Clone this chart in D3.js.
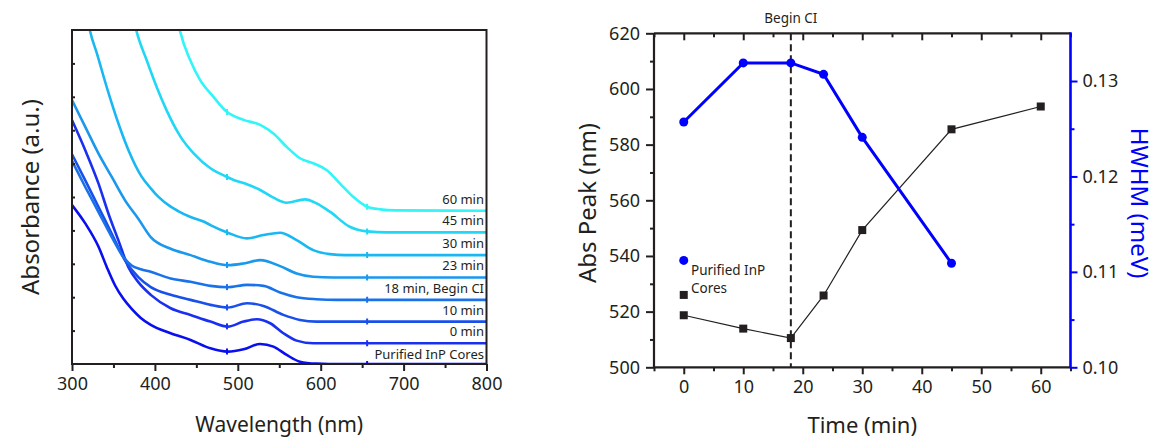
<!DOCTYPE html>
<html><head><meta charset="utf-8">
<script src="https://cdn.jsdelivr.net/npm/d3@7"></script>
<style>
body{margin:0;background:#fff}
svg{display:block}
text{font-family:"Noto Sans",sans-serif;fill:#231f20}
</style>
</head><body>
<svg id="c" width="1158" height="441"></svg>
<script>
// ---------- Left panel data (absorbance, arbitrary units with offsets) ----------
const wavelengthTicks = [300, 400, 500, 600, 700, 800];
const wavelengthMinor = [350, 450, 550, 650, 750];
const absTicks = [1, 2, 3, 4, 5, 6, 7, 8, 9];
const seriesLabels = ["Purified InP Cores", "0 min", "10 min", "18 min, Begin CI", "23 min", "30 min", "45 min", "60 min"];
const seriesColors = ["#0a0ff0", "#1a30f0", "#1a50ea", "#1a72ea", "#1a98ee", "#1ab8f2", "#20d8f6", "#30f6fa"];
const labelLevels = [0, 0.62, 1.27, 1.92, 2.59, 3.26, 3.94, 4.59];
const glitchWavelengths = [487, 656];

const specPurified = [[300,4.76],[316,4.21],[332,3.51],[342,2.9],[352,2.35],[362,1.95],[372,1.65],[383,1.38],[395,1.17],[419,0.92],[443,0.72],[467,0.47],[488,0.37],[507,0.44],[527,0.60],[543,0.52],[559,0.27],[575,0.07],[595,0.01],[610,0],[800,0]];
const spec0 = [[300,7.3],[316,6.4],[332,5.4],[344,4.5],[356,3.7],[368,2.9],[380,2.45],[395,2.07],[419,1.67],[443,1.47],[467,1.27],[488,1.12],[507,1.27],[523,1.34],[539,1.22],[555,0.92],[571,0.70],[591,0.62],[620,0.62],[800,0.62]];
const spec10 = [[300,6.28],[316,5.5],[332,4.7],[348,3.9],[364,3.1],[380,2.6],[395,2.30],[419,2.07],[443,1.92],[467,1.77],[488,1.69],[511,1.82],[531,1.74],[555,1.47],[575,1.32],[595,1.27],[620,1.27],[800,1.27]];
const spec18 = [[300,6.08],[316,5.3],[332,4.55],[348,3.8],[362,3.2],[372,2.95],[383,2.84],[395,2.76],[419,2.56],[443,2.46],[467,2.34],[488,2.30],[511,2.37],[531,2.34],[551,2.14],[571,2.0],[595,1.94],[620,1.92],[800,1.92]];
const spec23 = [[300,7.9],[316,7.1],[332,6.3],[348,5.6],[364,4.9],[380,4.35],[395,3.8],[419,3.45],[443,3.26],[467,3.06],[488,2.96],[507,3.01],[527,3.11],[551,2.93],[571,2.71],[591,2.61],[615,2.59],[800,2.59]];
const spec30 = [[317,10.6],[322,9.95],[330,9.3],[343,8.2],[356,7.2],[368,6.41],[384,5.61],[395,5.26],[404,5.01],[419,4.71],[428,4.58],[443,4.40],[460,4.25],[467,4.16],[488,3.93],[511,3.76],[531,3.86],[551,3.93],[571,3.71],[591,3.41],[611,3.29],[630,3.26],[800,3.26]];
const spec45 = [[372,10.6],[378,9.95],[390,9.1],[402,8.3],[414,7.6],[431,6.8],[447,6.3],[467,5.86],[487,5.6],[495,5.51],[511,5.38],[527,5.21],[543,4.98],[559,4.83],[581,4.93],[595,4.81],[611,4.56],[635,4.11],[656,3.97],[680,3.94],[800,3.94]];
const spec60 = [[425,10.6],[430.5,9.95],[442.5,9.1],[454.6,8.5],[470.6,8.0],[486.7,7.55],[507,7.31],[527,7.16],[543,6.9],[559,6.5],[575,6.16],[591,6.01],[607,5.81],[623,5.41],[639,5.01],[656,4.71],[672,4.63],[690,4.60],[800,4.59]];
const spectra = [specPurified, spec0, spec10, spec18, spec23, spec30, spec45, spec60];

// ---------- Right panel data ----------
const timeTicks = [0, 10, 20, 30, 40, 50, 60];
const timeMinor = [-5, 5, 15, 25, 35, 45, 55, 65];
const peakTicks = [500, 520, 540, 560, 580, 600, 620];
const peakMinor = [510, 530, 550, 570, 590, 610];
const hwhmTicks = [0.10, 0.11, 0.12, 0.13];
const hwhmMinor = [0.105, 0.115, 0.125];
const peakTime = [0, 10, 18, 23.5, 30, 45, 60];
const absPeak = [518.7, 513.9, 510.5, 525.8, 549.3, 585.5, 593.7];
const hwhmTime = [0, 10, 18, 23.5, 30, 45];
const hwhm = [0.1257, 0.1319, 0.1319, 0.1307, 0.1241, 0.1109];
const coresTime = [0];
const coresPeak = [526];
const coresHwhm = [0.1112];
const beginCI = 18;

const ink = "#231f20";
const blue = "#0000ff";
const svg = d3.select("#c");

// ================= LEFT PANEL =================
const xL = d3.scaleLinear().domain([300, 800]).range([72, 486.5]);
const yL = d3.scaleLinear().domain([0, 10]).range([364, 30]);

svg.append("clipPath").attr("id", "clipL").append("rect")
  .attr("x", xL(300)).attr("y", yL(10)).attr("width", xL(800) - xL(300)).attr("height", yL(0) - yL(10));

const line = d3.line().x(d => xL(d[0])).y(d => yL(d[1])).curve(d3.curveMonotoneX);
const gCurves = svg.append("g").attr("clip-path", "url(#clipL)");
spectra.forEach((s, i) => {
  gCurves.append("path").attr("d", line(s)).attr("fill", "none")
    .attr("stroke", seriesColors[i]).attr("stroke-width", 2.6);
});
// detector-change glitches
function interp(s, w) {
  for (let k = 1; k < s.length; k++) {
    if (s[k][0] >= w) {
      const a = s[k - 1], b = s[k];
      return a[1] + (b[1] - a[1]) * (w - a[0]) / (b[0] - a[0]);
    }
  }
  return s[s.length - 1][1];
}
spectra.forEach((s, i) => {
  glitchWavelengths.forEach(w => {
    const v = interp(s, w);
    if (v > 9.9) return;
    gCurves.append("line").attr("x1", xL(w)).attr("x2", xL(w))
      .attr("y1", yL(v) - 3).attr("y2", yL(v) + 3)
      .attr("stroke", seriesColors[i]).attr("stroke-width", 2);
  });
});

// labels
seriesLabels.forEach((t, i) => {
  svg.append("text").attr("x", 484).attr("y", yL(labelLevels[i]) - (i === 0 ? 5 : 7))
    .attr("text-anchor", "end").attr("font-size", 13).text(t);
});

// frame
svg.append("rect").attr("x", xL(300)).attr("y", yL(10)).attr("width", xL(800) - xL(300))
  .attr("height", yL(0) - yL(10)).attr("fill", "none").attr("stroke", ink).attr("stroke-width", 2);

// bottom axis
const axB = svg.append("g").attr("transform", `translate(0,${yL(0)})`)
  .call(d3.axisBottom(xL).tickValues(wavelengthTicks).tickSize(7).tickPadding(6).tickFormat(d3.format("d")));
axB.select(".domain").remove();
axB.selectAll("line").attr("stroke", ink).attr("stroke-width", 2);
axB.selectAll("text").attr("font-size", 18).attr("fill", ink).attr("font-family", "Noto Sans");
const axBm = svg.append("g").attr("transform", `translate(0,${yL(0)})`)
  .call(d3.axisBottom(xL).tickValues(wavelengthMinor).tickSize(4).tickFormat(""));
axBm.select(".domain").remove();
axBm.selectAll("line").attr("stroke", ink).attr("stroke-width", 2);
// left axis inward ticks
const axLl = svg.append("g").attr("transform", `translate(${xL(300)},0)`)
  .call(d3.axisRight(yL).tickValues(absTicks).tickSize(3).tickFormat(""));
axLl.select(".domain").remove();
axLl.selectAll("line").attr("stroke", ink).attr("stroke-width", 2);

svg.append("text").attr("x", (xL(300) + xL(800)) / 2).attr("y", 432).attr("text-anchor", "middle")
  .attr("font-size", 21).text("Wavelength (nm)");
svg.append("text").attr("transform", `translate(39,${(yL(0) + yL(10)) / 2}) rotate(-90)`)
  .attr("text-anchor", "middle").attr("font-size", 24).text("Absorbance (a.u.)");

// ================= RIGHT PANEL =================
const xR = d3.scaleLinear().domain([-5, 65]).range([654, 1070.5]);
const yR = d3.scaleLinear().domain([500, 620]).range([367.3, 33.3]);
const yH = d3.scaleLinear().domain([0.10, 0.135]).range([367.3, 33.3]);

// dashed Begin CI line
svg.append("line").attr("x1", xR(beginCI)).attr("x2", xR(beginCI)).attr("y1", yR(620)).attr("y2", yR(500))
  .attr("stroke", ink).attr("stroke-width", 2).attr("stroke-dasharray", "7,4");
svg.append("text").attr("x", xR(beginCI)).attr("y", 23).attr("text-anchor", "middle")
  .attr("font-size", 13.5).text("Begin CI");

// black abs peak
const pk = peakTime.map((t, i) => [t, absPeak[i]]);
svg.append("path").attr("d", d3.line().x(d => xR(d[0])).y(d => yR(d[1]))(pk))
  .attr("fill", "none").attr("stroke", ink).attr("stroke-width", 1.2);
const sq = 8;
svg.selectAll(".sq").data(pk.concat(coresTime.map((t, i) => [t, coresPeak[i]]))).enter().append("rect")
  .attr("x", d => xR(d[0]) - sq / 2).attr("y", d => yR(d[1]) - sq / 2)
  .attr("width", sq).attr("height", sq).attr("fill", ink);

// blue hwhm
const hw = hwhmTime.map((t, i) => [t, hwhm[i]]);
svg.append("path").attr("d", d3.line().x(d => xR(d[0])).y(d => yH(d[1]))(hw))
  .attr("fill", "none").attr("stroke", blue).attr("stroke-width", 3);
svg.selectAll(".ci").data(hw.concat(coresTime.map((t, i) => [t, coresHwhm[i]]))).enter().append("circle")
  .attr("cx", d => xR(d[0])).attr("cy", d => yH(d[1])).attr("r", 4.5).attr("fill", blue);

svg.append("text").attr("x", 691).attr("y", 275).attr("font-size", 13.5).text("Purified InP");
svg.append("text").attr("x", 691).attr("y", 293).attr("font-size", 13.5).text("Cores");

// axes lines
function styleAx(g, col) {
  g.select(".domain").remove();
  g.selectAll("line").attr("stroke", col).attr("stroke-width", 2);
  g.selectAll("text").attr("font-size", 18).attr("fill", col).attr("font-family", "Noto Sans");
}
// bottom
const rb = svg.append("g").attr("transform", `translate(0,${yR(500)})`)
  .call(d3.axisBottom(xR).tickValues(timeTicks).tickSize(7).tickPadding(6).tickFormat(d3.format("d")));
styleAx(rb, ink);
const rbm = svg.append("g").attr("transform", `translate(0,${yR(500)})`)
  .call(d3.axisBottom(xR).tickValues(timeMinor).tickSize(4).tickFormat(""));
styleAx(rbm, ink);
// top (inward)
const rt = svg.append("g").attr("transform", `translate(0,${yR(620)})`)
  .call(d3.axisBottom(xR).tickValues(timeTicks).tickSize(7).tickFormat(""));
styleAx(rt, ink);
const rtm = svg.append("g").attr("transform", `translate(0,${yR(620)})`)
  .call(d3.axisBottom(xR).tickValues(timeMinor).tickSize(4).tickFormat(""));
styleAx(rtm, ink);
// left
const rl = svg.append("g").attr("transform", `translate(${xR(-5)},0)`)
  .call(d3.axisLeft(yR).tickValues(peakTicks).tickSize(8).tickPadding(6).tickFormat(d3.format("d")));
styleAx(rl, ink);
const rlm = svg.append("g").attr("transform", `translate(${xR(-5)},0)`)
  .call(d3.axisLeft(yR).tickValues(peakMinor).tickSize(4).tickFormat(""));
styleAx(rlm, ink);
// right (blue)
const rr = svg.append("g").attr("transform", `translate(${xR(65)},0)`)
  .call(d3.axisRight(yH).tickValues(hwhmTicks).tickSize(7).tickPadding(5).tickFormat(d3.format(".2f")));
styleAx(rr, blue);
const rrm = svg.append("g").attr("transform", `translate(${xR(65)},0)`)
  .call(d3.axisRight(yH).tickValues(hwhmMinor).tickSize(4).tickFormat(""));
styleAx(rrm, blue);

// frame lines
svg.append("line").attr("x1", xR(-5)).attr("x2", xR(65)).attr("y1", yR(500)).attr("y2", yR(500)).attr("stroke", ink).attr("stroke-width", 2.2);
svg.append("line").attr("x1", xR(-5)).attr("x2", xR(65)).attr("y1", yR(620)).attr("y2", yR(620)).attr("stroke", ink).attr("stroke-width", 2.2);
svg.append("line").attr("x1", xR(-5)).attr("x2", xR(-5)).attr("y1", yR(500)).attr("y2", yR(620)).attr("stroke", ink).attr("stroke-width", 2.2);
svg.append("line").attr("x1", xR(65)).attr("x2", xR(65)).attr("y1", yR(500) + 1).attr("y2", yR(620) - 1).attr("stroke", blue).attr("stroke-width", 2.6);

svg.append("text").attr("x", (xR(-5) + xR(65)) / 2).attr("y", 433).attr("text-anchor", "middle")
  .attr("font-size", 22).text("Time (min)");
svg.append("text").attr("transform", `translate(596,203) rotate(-90)`)
  .attr("text-anchor", "middle").attr("font-size", 24).text("Abs Peak (nm)");
svg.append("text").attr("transform", `translate(1131,203) rotate(90)`)
  .attr("text-anchor", "middle").attr("font-size", 24).style("fill", blue).text("HWHM (meV)");
</script>
</body></html>
